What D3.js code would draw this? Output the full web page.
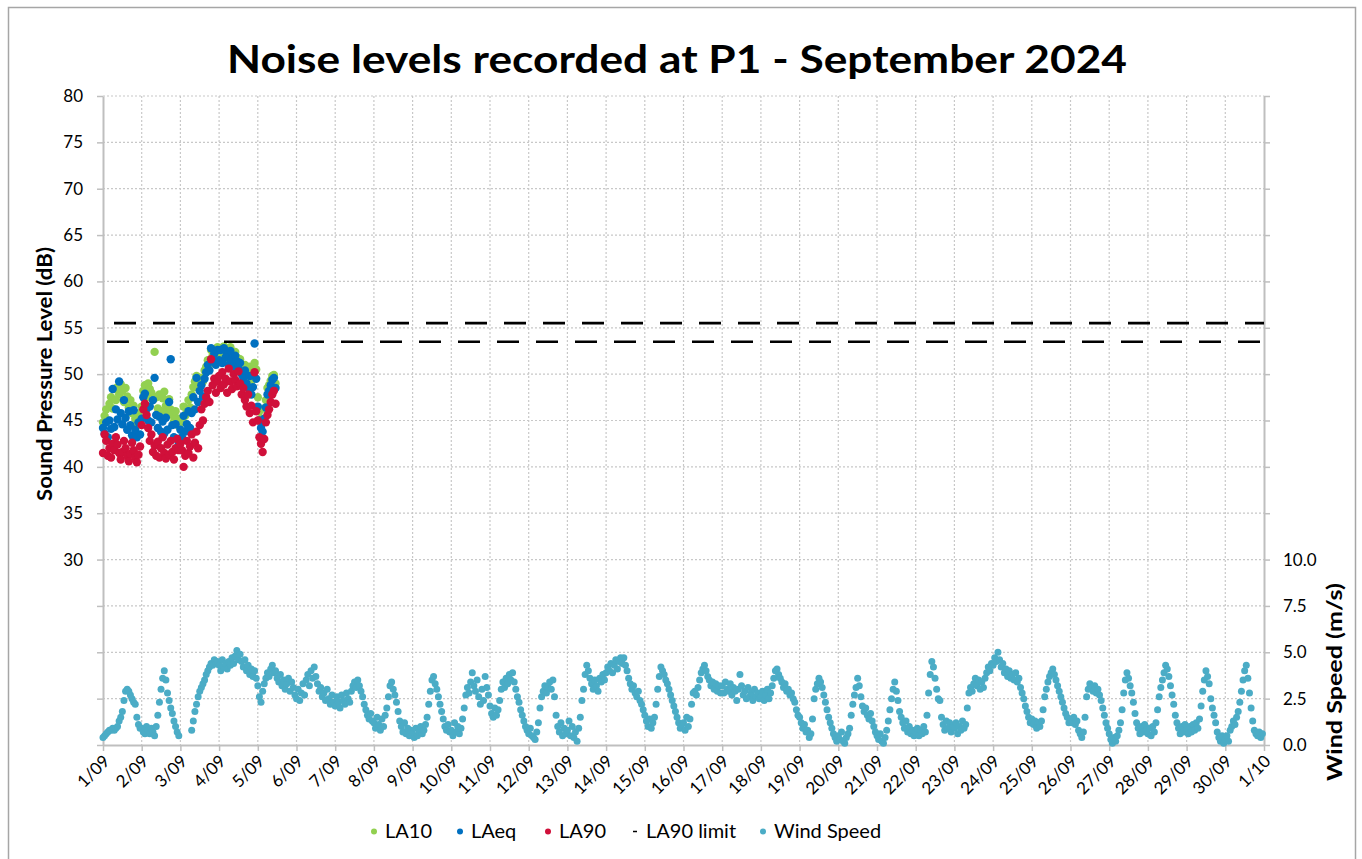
<!DOCTYPE html>
<html>
<head>
<meta charset="utf-8">
<script src="https://cdn.jsdelivr.net/npm/d3@7"></script>
<style>
  body { margin: 0; background: #fff; }
  text { font-family: Lato, "Open Sans", sans-serif; fill: #000; }
</style>
</head>
<body>
<script>
var xTickLabels = ['1/09','2/09','3/09','4/09','5/09','6/09','7/09','8/09','9/09','10/09',
  '11/09','12/09','13/09','14/09','15/09','16/09','17/09','18/09','19/09','20/09',
  '21/09','22/09','23/09','24/09','25/09','26/09','27/09','28/09','29/09','30/09','1/10'];

// hourly readings from 1/09 00:00
var la10 = [
  44.8,45.5,46.2,45.0,46.8,47.5,46.3,48.4,47.2,48.6,47.8,48.9,48.2,47.0,48.5,47.6,46.4,47.2,45.8,46.6,45.2,44.5,45.8,44.6,
  46.5,48.2,48.8,47.5,49.0,48.4,48.0,47.2,52.4,47.5,46.3,47.8,46.0,47.4,48.1,46.6,45.9,47.3,46.2,45.6,44.9,46.0,45.2,44.4,
  45.2,44.8,46.5,45.5,46.0,47.2,46.4,47.8,48.6,49.2,49.8,48.5,49.0,49.6,49.2,50.4,50.8,51.5,51.0,52.6,52.0,52.5,51.6,52.9,
  52.0,52.8,51.6,53.0,52.4,52.6,51.5,52.9,52.0,51.4,52.4,51.8,51.2,51.6,50.8,50.2,51.0,50.4,49.5,50.8,49.2,50.0,51.2,50.5,
  47.5,46.0,45.2,44.8,46.3,47.2,48.5,48.8,49.3,49.8,49.9,49.0
];
var laeq = [
  44.2,43.6,44.8,43.2,45.0,44.1,48.4,44.3,46.2,45.1,49.2,45.8,44.6,47.2,45.3,44.0,46.0,44.5,43.4,46.1,44.0,43.2,44.8,43.5,
  45.2,47.5,47.9,46.2,45.0,46.5,44.8,47.2,49.6,45.6,44.2,45.4,43.8,44.9,43.6,45.3,44.0,47.0,51.6,44.5,43.2,44.6,43.0,42.6,
  44.0,43.2,45.5,43.8,44.6,46.0,44.2,45.8,47.5,46.2,49.6,47.0,48.2,48.8,47.6,49.5,50.2,51.0,50.4,52.8,51.5,52.2,51.0,52.6,
  51.5,52.6,51.2,52.8,51.8,52.2,51.0,52.5,51.6,50.8,52.0,51.4,50.5,51.2,50.0,49.6,50.4,49.0,48.5,49.8,47.8,48.6,53.3,49.5,
  46.5,45.0,44.2,43.8,45.2,46.4,47.8,48.2,48.8,49.4,49.6,48.5
];
var la90 = [
  41.5,43.5,42.8,41.2,42.0,41.0,42.5,41.8,43.2,42.4,41.5,40.8,41.6,42.8,42.0,41.2,40.6,41.4,42.6,41.8,41.0,40.5,41.3,42.2,
  44.5,46.2,46.8,45.6,44.2,42.8,43.5,41.6,42.3,41.2,42.7,41.0,42.0,43.2,41.5,40.9,42.4,41.3,42.8,41.6,40.8,42.0,43.0,41.8,
  42.5,41.8,40.0,41.2,42.8,41.5,42.2,43.5,41.0,42.6,43.8,42.0,44.5,46.2,45.0,46.8,47.5,48.2,47.0,51.6,48.8,49.5,48.0,49.2,
  49.8,48.5,50.2,48.9,49.5,48.0,50.6,49.2,48.4,50.0,49.4,48.7,50.3,49.0,47.8,48.5,47.2,46.5,47.8,45.8,46.6,44.8,50.2,46.0,
  45.0,43.2,42.5,41.6,43.0,44.8,45.6,46.2,47.0,47.8,48.2,46.8
];
var limitLevels = [55.5, 53.5];

// wind speed, one row per day, 24 hourly values
var windSpeed = [
  [0.4,0.5,0.6,0.7,0.8,0.8,0.9,0.8,0.9,1.0,1.3,1.5,1.8,2.4,2.9,3.0,2.9,2.7,2.5,2.3,2.2,1.5,1.1,0.9],
  [0.9,0.7,0.6,1.0,0.8,0.6,0.9,0.7,0.5,1.0,1.6,2.3,3.0,3.6,4.0,3.5,2.8,2.4,2.0,1.7,1.3,1.0,0.7,0.5],
  [null,null,null,null,null,null,null,0.8,1.3,1.8,2.2,2.6,2.9,3.1,3.3,3.5,3.8,4.0,4.2,4.4,4.3,4.6,4.4,4.5],
  [4.3,4.0,4.6,4.2,4.4,4.1,4.5,4.3,4.7,4.4,4.8,5.1,4.6,4.9,4.5,4.2,4.6,4.0,4.3,3.8,4.1,3.7,4.0,3.6],
  [3.2,2.6,2.3,2.9,3.3,3.6,3.9,3.7,4.1,4.3,3.9,4.0,3.6,3.4,3.8,3.2,3.5,3.0,3.3,3.6,2.9,3.4,3.1,2.7],
  [2.5,3.0,2.4,2.8,3.3,2.7,3.5,3.8,3.2,4.0,3.6,4.2,3.7,3.3,2.9,3.1,2.6,2.8,2.4,3.0,2.5,2.2,2.7,2.3],
  [2.1,2.6,2.3,2.0,2.7,2.4,2.2,2.8,2.5,2.3,2.9,3.2,3.4,3.1,3.5,3.2,2.9,2.6,2.2,1.9,1.6,1.4,1.7,1.3],
  [1.2,0.9,1.5,1.1,0.8,1.4,1.0,1.6,2.0,2.6,3.2,3.4,3.0,2.7,2.3,1.8,1.3,1.0,0.7,1.2,0.6,0.9,0.5,0.8],
  [0.6,0.4,0.9,0.5,0.7,1.0,0.6,0.8,1.1,1.5,2.2,2.9,3.5,3.7,3.3,3.0,2.6,2.2,1.8,1.4,1.0,0.8,1.1,0.7],
  [0.8,0.5,1.2,0.7,1.0,0.6,0.9,1.4,2.0,2.7,3.1,2.8,3.4,3.9,3.2,2.9,3.5,2.6,2.2,3.0,2.4,3.7,3.1,2.7],
  [2.1,1.7,1.5,2.0,1.6,1.9,2.4,3.0,3.4,3.1,3.6,3.3,3.8,3.5,3.9,3.4,3.0,2.6,2.3,1.9,1.6,1.3,1.0,0.8],
  [0.6,0.9,0.5,0.4,0.3,0.7,1.2,2.0,2.6,2.9,3.2,2.8,3.1,3.4,3.0,3.5,2.6,1.6,1.0,0.7,1.2,0.5,0.9,0.6],
  [0.8,1.3,0.5,1.0,0.4,0.7,0.2,0.9,1.5,2.4,3.0,3.8,4.3,4.0,3.6,3.3,3.0,3.5,3.2,2.9,3.6,3.4,3.8,3.5],
  [3.9,4.2,4.0,4.4,3.9,4.3,4.6,4.1,4.5,4.7,4.4,4.7,4.3,4.0,3.6,3.3,3.0,3.2,2.8,2.6,2.9,2.4,2.2,1.9],
  [1.6,1.3,1.0,1.4,0.9,1.2,1.5,2.2,3.0,3.7,4.2,4.0,3.8,3.5,3.3,3.0,2.7,2.4,2.1,1.8,1.5,1.2,0.9,1.1],
  [1.2,0.8,1.5,1.0,1.4,2.2,2.8,2.9,2.7,3.1,3.5,3.9,4.1,4.3,4.0,3.7,3.5,3.2,3.4,3.0,3.3,2.9,3.2,2.8],
  [3.2,2.8,3.4,3.0,2.9,3.3,2.7,3.1,2.9,2.4,3.0,3.8,3.2,2.7,2.9,2.5,3.1,2.6,2.8,2.4,3.0,2.6,2.8,2.5],
  [2.6,2.9,2.4,2.7,3.0,2.5,2.8,3.2,3.6,4.0,4.1,3.8,3.6,3.4,3.1,3.3,2.9,3.0,2.7,2.8,2.5,2.3,1.9,1.6],
  [1.5,1.2,0.9,1.1,0.7,0.8,0.4,0.6,1.4,2.5,3.0,3.3,3.6,3.4,3.1,2.7,2.3,1.9,1.5,1.2,0.9,0.6,0.4,0.2],
  [0.5,0.3,0.7,0.2,0.1,0.4,0.6,0.9,1.6,2.2,2.7,3.1,3.6,3.2,2.6,2.1,1.8,2.0,1.6,1.4,1.7,1.3,1.0,0.7],
  [0.5,0.3,0.6,0.2,0.1,0.4,0.8,1.3,1.9,2.5,3.0,3.4,2.9,2.4,1.8,1.5,1.2,0.9,1.3,0.7,1.0,0.6,0.8,0.5],
  [0.7,0.9,0.5,0.8,0.6,1.0,0.7,1.6,2.8,3.8,4.5,4.2,3.6,3.0,2.5,2.4,1.5,1.1,0.8,1.3,0.9,1.2,0.7,1.0],
  [0.9,1.2,0.6,1.0,0.8,1.3,0.9,1.1,2.0,2.8,3.1,2.9,3.3,3.6,3.2,3.5,3.0,3.4,3.1,3.6,3.9,4.2,4.0,4.4],
  [4.3,4.7,4.5,5.0,4.6,4.2,4.4,3.9,4.1,3.7,4.0,3.6,3.8,3.5,3.9,3.4,3.6,3.1,2.8,2.5,2.1,1.8,1.5,1.2],
  [1.4,1.1,1.3,0.9,1.2,1.0,1.3,1.9,2.6,3.0,3.4,3.7,3.9,4.1,3.8,3.5,3.2,2.9,2.6,2.3,2.0,1.7,1.5,1.2],
  [1.4,1.2,1.5,1.1,1.3,0.8,0.6,0.4,0.7,1.5,2.6,3.0,3.3,3.1,2.9,3.2,2.8,3.0,2.7,2.4,2.0,1.6,1.2,0.9],
  [0.6,0.3,0.1,0.4,0.2,0.5,0.8,1.2,1.9,2.8,3.5,3.9,3.6,3.2,2.8,2.3,1.7,1.2,0.9,0.6,1.0,0.7,1.1,0.8],
  [0.6,0.9,0.5,1.0,0.7,1.2,1.9,2.6,3.1,3.5,3.9,4.3,4.1,3.7,3.2,2.7,2.2,1.6,1.2,0.9,0.6,1.0,0.7,1.1],
  [0.8,0.6,1.0,0.7,1.1,0.8,1.2,0.9,1.4,2.1,2.9,3.5,4.0,3.7,3.3,2.5,2.0,1.6,1.2,0.7,0.4,0.2,0.5,0.1],
  [0.3,0.5,0.2,0.8,1.0,1.3,1.1,1.5,1.8,2.3,2.9,3.5,4.0,4.3,3.6,2.8,2.0,1.3,0.8,0.6,0.5,0.7,0.4,0.6]
];

var splTicks = d3.range(10, 81, 5);
var windTicks = d3.range(0, 35.01, 2.5);

var svgWidth = 1362;
var svgHeight = 859;

var svg = d3.select('body')
  .append('svg')
    .attr('width', svgWidth)
    .attr('height', svgHeight);

// chart border
svg.append('rect')
  .attr('x', 8.5)
  .attr('y', 7.5)
  .attr('width', 1347)
  .attr('height', 880)
  .attr('fill', 'none')
  .attr('stroke', '#a6a6a6')
  .attr('stroke-width', 1.5);

var xScale = d3.scaleLinear().domain([0, 30]).range([103, 1264]);
var yScale = d3.scaleLinear().domain([10, 80]).range([745, 96]);
var windScale = d3.scaleLinear().domain([0, 35]).range([745, 96]);

// gridlines
var grid = svg.append('g')
  .attr('stroke', '#c8c8c8')
  .attr('stroke-width', 1.2)
  .attr('stroke-dasharray', '2,2');

grid.selectAll('.hgrid')
  .data(splTicks.slice(1))
  .enter()
  .append('line')
    .attr('x1', xScale(0))
    .attr('x2', xScale(30))
    .attr('y1', function(d) { return yScale(d); })
    .attr('y2', function(d) { return yScale(d); });

grid.selectAll('.vgrid')
  .data(d3.range(1, 30))
  .enter()
  .append('line')
    .attr('x1', function(d) { return xScale(d); })
    .attr('x2', function(d) { return xScale(d); })
    .attr('y1', yScale(80))
    .attr('y2', yScale(10));

// axes
var y_axis = d3.axisLeft(yScale)
  .tickValues(splTicks)
  .tickSize(6)
  .tickSizeOuter(0)
  .tickPadding(14)
  .tickFormat(function(d) { return d >= 30 ? d : ''; });

var w_axis = d3.axisRight(windScale)
  .tickValues(windTicks)
  .tickSize(6)
  .tickSizeOuter(0)
  .tickPadding(13)
  .tickFormat(function(d) { return d <= 10 ? d.toFixed(1) : ''; });

var x_axis = d3.axisBottom(xScale)
  .tickValues(d3.range(0, 31))
  .tickSize(6)
  .tickSizeOuter(0)
  .tickFormat(function(d, i) { return xTickLabels[i]; });

var gy = svg.append('g')
  .attr('transform', 'translate(' + xScale(0) + ',0)')
  .call(y_axis);

var gw = svg.append('g')
  .attr('transform', 'translate(' + xScale(30) + ',0)')
  .call(w_axis);

var gx = svg.append('g')
  .attr('transform', 'translate(0,' + yScale(10) + ')')
  .call(x_axis);

gx.selectAll('text')
  .attr('x', 0)
  .attr('y', 0)
  .attr('dy', '0.35em')
  .attr('text-anchor', 'end')
  .attr('transform', 'translate(3,13) rotate(-45)');

[gy, gw, gx].forEach(function(g) {
  g.select('.domain').attr('stroke', '#bfbfbf').attr('stroke-width', 2);
  g.selectAll('.tick line').attr('stroke', '#bfbfbf').attr('stroke-width', 1.5);
  g.selectAll('text').style('font-size', '17px').style('font-family', 'Lato, sans-serif').attr('fill', '#000');
});

// series
function hourly(arr) {
  return arr.map(function(v, i) { return {t: i / 24, v: v}; });
}

var windPoints = [];
windSpeed.forEach(function(day, d) {
  day.forEach(function(v, h) {
    if (v !== null) windPoints.push({t: d + h / 24, v: v});
  });
});

var noiseSeries = [
  {name: 'LA10', data: hourly(la10), color: '#92d050'},
  {name: 'LAeq', data: hourly(laeq), color: '#0070c0'},
  {name: 'LA90', data: hourly(la90), color: '#d0103a'}
];

noiseSeries.forEach(function(s) {
  svg.append('g')
    .selectAll('circle')
    .data(s.data)
    .enter()
    .append('circle')
      .attr('cx', function(d) { return xScale(d.t); })
      .attr('cy', function(d) { return yScale(d.v); })
      .attr('r', 4.2)
      .attr('fill', s.color);
});

// limit lines
var limitOffsets = [28, 35];
svg.append('g')
  .selectAll('line')
  .data(limitLevels)
  .enter()
  .append('line')
    .attr('x1', xScale(0))
    .attr('x2', xScale(30))
    .attr('y1', function(d) { return yScale(d); })
    .attr('y2', function(d) { return yScale(d); })
    .attr('stroke', '#000')
    .attr('stroke-width', 2.6)
    .attr('stroke-dasharray', '22,17')
    .attr('stroke-dashoffset', function(d, i) { return limitOffsets[i]; });

svg.append('g')
  .selectAll('circle')
  .data(windPoints)
  .enter()
  .append('circle')
    .attr('cx', function(d) { return xScale(d.t); })
    .attr('cy', function(d) { return windScale(d.v); })
    .attr('r', 3.5)
    .attr('fill', '#4bacc6');

// title and axis labels
svg.append('text')
  .attr('x', 677)
  .attr('y', 73)
  .attr('text-anchor', 'middle')
  .attr('textLength', 900)
  .attr('lengthAdjust', 'spacingAndGlyphs')
  .style('font-size', '39px')
  .style('font-weight', 'bold')
  .text('Noise levels recorded at P1 - September 2024');

svg.append('text')
  .attr('transform', 'translate(52,374) rotate(-90)')
  .attr('text-anchor', 'middle')
  .attr('textLength', 254)
  .attr('lengthAdjust', 'spacingAndGlyphs')
  .style('font-size', '21px')
  .style('font-weight', 'bold')
  .text('Sound Pressure Level (dB)');

svg.append('text')
  .attr('transform', 'translate(1342,682) rotate(-90)')
  .attr('text-anchor', 'middle')
  .attr('textLength', 198)
  .attr('lengthAdjust', 'spacingAndGlyphs')
  .style('font-size', '21px')
  .style('font-weight', 'bold')
  .text('Wind Speed (m/s)');

// legend
var legendItems = [
  {name: 'LA10', color: '#92d050', x: 374},
  {name: 'LAeq', color: '#0070c0', x: 460},
  {name: 'LA90', color: '#d0103a', x: 548},
  {name: 'LA90 limit', color: '#000', x: 635, dash: true},
  {name: 'Wind Speed', color: '#4bacc6', x: 763}
];

var legend = svg.append('g');
legendItems.forEach(function(item) {
  if (item.dash) {
    legend.append('line')
      .attr('x1', item.x - 2).attr('x2', item.x + 2)
      .attr('y1', 831.5).attr('y2', 831.5)
      .attr('stroke', item.color).attr('stroke-width', 1.5);
  } else {
    legend.append('circle')
      .attr('cx', item.x).attr('cy', 831.5).attr('r', 3)
      .attr('fill', item.color);
  }
  legend.append('text')
    .attr('x', item.x + 11)
    .attr('y', 838)
    .style('font-size', '20px')
    .text(item.name);
});
</script>
</body>
</html>
